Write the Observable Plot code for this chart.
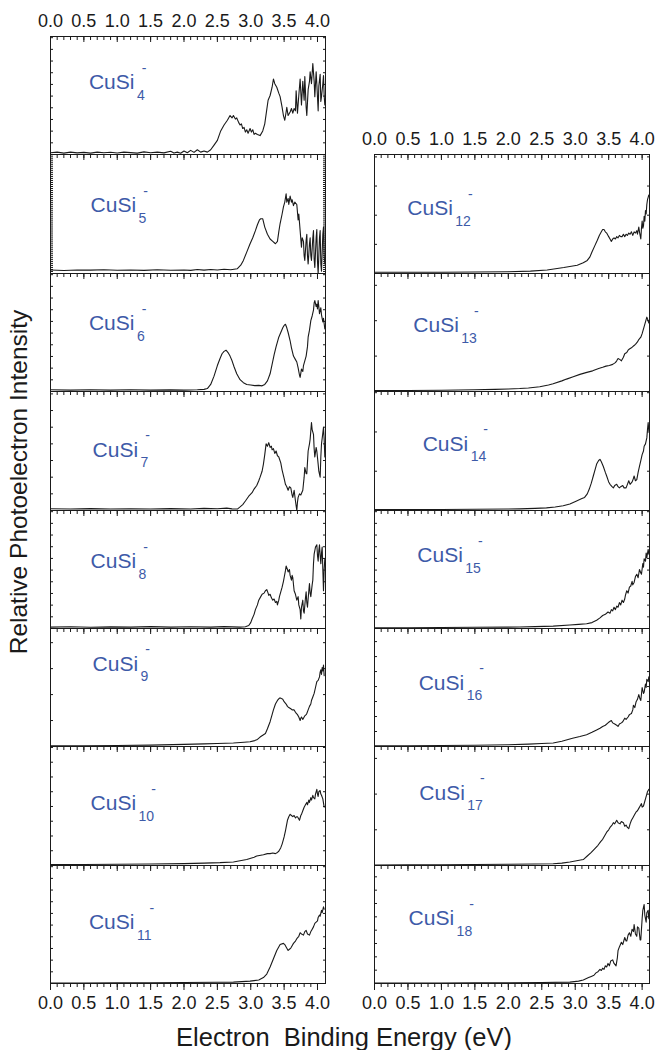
<!DOCTYPE html>
<html><head><meta charset="utf-8">
<script src="https://cdn.jsdelivr.net/npm/d3@7"></script>
<script src="https://cdn.jsdelivr.net/npm/@observablehq/plot@0.6"></script>
<style>
html,body{margin:0;padding:0;background:#fff;}
#fig{position:relative;width:657px;height:1050px;overflow:hidden;font-family:"Liberation Sans",Arial,Helvetica,sans-serif;color:#1a1a1a;}
#fig svg{position:absolute;}
.xtitle{position:absolute;left:344px;top:1025px;transform:translateX(-50%);font-size:25.5px;line-height:25px;white-space:pre;color:#1a1a1a;}
.ytitle{position:absolute;left:19px;top:482px;transform:translate(-50%,-50%) rotate(-90deg);font-size:24.5px;line-height:24px;white-space:nowrap;color:#1a1a1a;}
</style></head>
<body><div id="fig"></div>
<script>
// ---------- data (x: electron binding energy in eV, y: relative intensity of the panel, 0..1) ----------
const cuSi4 = [[0,0.015],[0.1,0.02],[0.2,0.012],[0.3,0.02],[0.4,0.014],[0.5,0.018],[0.6,0.012],[0.7,0.02],[0.8,0.015],[0.9,0.019],[1.0,0.013],[1.1,0.02],[1.2,0.016],[1.3,0.012],[1.4,0.022],[1.5,0.015],[1.6,0.02],[1.7,0.014],[1.8,0.028],[1.85,0.012],[1.9,0.02],[1.95,0.01],[2.0,0.03],[2.05,0.015],[2.1,0.035],[2.15,0.018],[2.2,0.04],[2.25,0.02],[2.3,0.03],[2.35,0.02],[2.4,0.04],[2.45,0.08],[2.5,0.12],[2.55,0.2],[2.6,0.25],[2.65,0.29],[2.69,0.33],[2.72,0.31],[2.74,0.33],[2.77,0.3],[2.79,0.31],[2.82,0.27],[2.84,0.25],[2.86,0.26],[2.88,0.22],[2.9,0.23],[2.92,0.19],[2.94,0.21],[2.96,0.18],[2.99,0.22],[3.01,0.19],[3.03,0.21],[3.05,0.17],[3.07,0.18],[3.1,0.17],[3.14,0.16],[3.18,0.2],[3.21,0.26],[3.24,0.38],[3.26,0.46],[3.29,0.5],[3.32,0.57],[3.34,0.64],[3.36,0.6],[3.39,0.57],[3.42,0.52],[3.44,0.49],[3.47,0.4],[3.49,0.33],[3.51,0.29],[3.53,0.36],[3.54,0.4],[3.56,0.33],[3.59,0.36],[3.61,0.39],[3.63,0.35],[3.65,0.39],[3.67,0.37],[3.68,0.54],[3.7,0.35],[3.72,0.5],[3.74,0.64],[3.76,0.42],[3.78,0.62],[3.8,0.46],[3.81,0.66],[3.83,0.4],[3.84,0.33],[3.86,0.55],[3.88,0.62],[3.89,0.7],[3.91,0.6],[3.93,0.77],[3.95,0.62],[3.96,0.49],[3.98,0.7],[3.99,0.6],[4.01,0.37],[4.02,0.58],[4.04,0.68],[4.05,0.45],[4.06,0.49],[4.08,0.6],[4.09,0.67],[4.1,0.5],[4.11,0.42]];
const cuSi5 = [[0,0.03],[0.2,0.025],[0.4,0.03],[0.6,0.028],[0.8,0.032],[1.0,0.027],[1.2,0.03],[1.4,0.026],[1.6,0.032],[1.8,0.027],[2.0,0.03],[2.1,0.026],[2.2,0.033],[2.3,0.028],[2.4,0.034],[2.5,0.03],[2.6,0.036],[2.7,0.032],[2.8,0.04],[2.85,0.07],[2.89,0.11],[2.94,0.18],[2.99,0.25],[3.03,0.3],[3.07,0.36],[3.1,0.41],[3.13,0.45],[3.15,0.46],[3.18,0.46],[3.21,0.39],[3.25,0.33],[3.29,0.29],[3.33,0.27],[3.37,0.25],[3.4,0.27],[3.42,0.35],[3.44,0.42],[3.47,0.5],[3.49,0.56],[3.51,0.6],[3.53,0.67],[3.54,0.6],[3.56,0.63],[3.57,0.58],[3.59,0.65],[3.61,0.6],[3.62,0.62],[3.64,0.57],[3.66,0.6],[3.69,0.58],[3.71,0.45],[3.72,0.5],[3.74,0.36],[3.76,0.22],[3.77,0.3],[3.79,0.27],[3.8,0.15],[3.81,0.11],[3.83,0.28],[3.84,0.33],[3.85,0.15],[3.86,0.08],[3.88,0.25],[3.89,0.3],[3.9,0.15],[3.91,0.11],[3.93,0.3],[3.94,0.36],[3.95,0.12],[3.96,0.05],[3.98,0.3],[3.99,0.37],[4.0,0.1],[4.01,0.0],[4.03,0.3],[4.04,0.36],[4.05,0.08],[4.06,0.02],[4.08,0.33],[4.09,0.39],[4.1,0.15],[4.11,0.08]];
const cuSi6 = [[0,0.015],[0.3,0.012],[0.6,0.015],[0.9,0.012],[1.2,0.015],[1.5,0.012],[1.8,0.014],[2.0,0.012],[2.2,0.015],[2.3,0.018],[2.35,0.025],[2.4,0.06],[2.45,0.13],[2.5,0.22],[2.54,0.28],[2.57,0.32],[2.6,0.34],[2.63,0.35],[2.66,0.33],[2.69,0.3],[2.72,0.26],[2.75,0.21],[2.79,0.15],[2.84,0.1],[2.89,0.075],[2.94,0.06],[3.0,0.055],[3.06,0.05],[3.12,0.052],[3.17,0.048],[3.21,0.06],[3.25,0.09],[3.29,0.15],[3.32,0.23],[3.35,0.31],[3.38,0.38],[3.42,0.46],[3.45,0.5],[3.48,0.54],[3.5,0.56],[3.52,0.57],[3.54,0.54],[3.56,0.5],[3.59,0.43],[3.61,0.37],[3.64,0.3],[3.67,0.27],[3.69,0.25],[3.71,0.2],[3.73,0.14],[3.74,0.12],[3.76,0.19],[3.78,0.17],[3.79,0.22],[3.81,0.26],[3.83,0.3],[3.85,0.38],[3.86,0.46],[3.88,0.52],[3.9,0.6],[3.92,0.64],[3.94,0.69],[3.95,0.75],[3.96,0.77],[3.98,0.72],[3.99,0.74],[4.0,0.7],[4.01,0.77],[4.02,0.72],[4.03,0.66],[4.05,0.71],[4.06,0.65],[4.08,0.59],[4.09,0.62],[4.11,0.53]];
const cuSi7 = [[0,0.015],[0.3,0.012],[0.6,0.016],[0.9,0.012],[1.2,0.015],[1.5,0.012],[1.8,0.016],[2.1,0.013],[2.3,0.018],[2.5,0.015],[2.64,0.02],[2.72,0.014],[2.8,0.012],[2.84,0.03],[2.88,0.05],[2.92,0.08],[2.97,0.12],[3.02,0.15],[3.05,0.18],[3.09,0.21],[3.12,0.25],[3.14,0.28],[3.17,0.33],[3.19,0.39],[3.21,0.47],[3.23,0.56],[3.25,0.54],[3.27,0.57],[3.29,0.53],[3.31,0.54],[3.32,0.51],[3.34,0.52],[3.36,0.48],[3.38,0.5],[3.4,0.46],[3.42,0.45],[3.45,0.4],[3.47,0.34],[3.5,0.27],[3.52,0.22],[3.54,0.2],[3.56,0.17],[3.58,0.2],[3.6,0.19],[3.62,0.13],[3.63,0.11],[3.65,0.17],[3.67,0.08],[3.69,0.0],[3.7,0.07],[3.71,0.11],[3.73,0.14],[3.75,0.13],[3.78,0.17],[3.8,0.28],[3.81,0.36],[3.83,0.31],[3.84,0.31],[3.86,0.5],[3.88,0.56],[3.89,0.6],[3.91,0.74],[3.92,0.68],[3.94,0.64],[3.95,0.52],[3.96,0.45],[3.98,0.53],[3.99,0.5],[4.01,0.39],[4.02,0.33],[4.04,0.28],[4.05,0.45],[4.06,0.56],[4.08,0.65],[4.09,0.7],[4.1,0.6],[4.11,0.45]];
const cuSi8 = [[0,0.012],[0.3,0.015],[0.6,0.011],[0.9,0.014],[1.2,0.012],[1.5,0.016],[1.8,0.012],[2.1,0.015],[2.4,0.012],[2.6,0.016],[2.84,0.012],[2.92,0.015],[2.97,0.025],[3.0,0.05],[3.02,0.08],[3.05,0.12],[3.07,0.16],[3.1,0.2],[3.12,0.24],[3.15,0.27],[3.17,0.29],[3.2,0.3],[3.22,0.32],[3.24,0.33],[3.26,0.3],[3.27,0.28],[3.29,0.29],[3.31,0.26],[3.33,0.24],[3.35,0.25],[3.37,0.22],[3.39,0.23],[3.4,0.2],[3.42,0.24],[3.43,0.27],[3.45,0.31],[3.47,0.35],[3.49,0.4],[3.5,0.43],[3.52,0.49],[3.53,0.53],[3.55,0.5],[3.56,0.48],[3.58,0.5],[3.59,0.45],[3.61,0.41],[3.62,0.45],[3.63,0.43],[3.65,0.32],[3.67,0.29],[3.69,0.24],[3.71,0.27],[3.72,0.2],[3.74,0.16],[3.75,0.08],[3.76,0.18],[3.78,0.24],[3.79,0.15],[3.8,0.13],[3.82,0.26],[3.83,0.31],[3.84,0.22],[3.85,0.18],[3.87,0.32],[3.88,0.38],[3.89,0.3],[3.9,0.27],[3.92,0.37],[3.93,0.41],[3.94,0.55],[3.95,0.63],[3.97,0.69],[3.99,0.71],[4.0,0.62],[4.01,0.57],[4.02,0.66],[4.03,0.71],[4.04,0.62],[4.05,0.55],[4.06,0.64],[4.07,0.69],[4.08,0.5],[4.09,0.32],[4.1,0.5],[4.11,0.59]];
const cuSi9 = [[0,0.005],[0.5,0.006],[1.0,0.008],[1.5,0.012],[2.0,0.018],[2.3,0.022],[2.5,0.026],[2.74,0.03],[2.9,0.036],[2.99,0.04],[3.06,0.05],[3.1,0.06],[3.14,0.08],[3.18,0.095],[3.22,0.11],[3.25,0.15],[3.29,0.21],[3.32,0.27],[3.34,0.31],[3.37,0.36],[3.4,0.39],[3.43,0.41],[3.45,0.41],[3.48,0.4],[3.5,0.38],[3.53,0.36],[3.55,0.34],[3.57,0.33],[3.6,0.32],[3.62,0.31],[3.65,0.31],[3.67,0.29],[3.7,0.27],[3.72,0.25],[3.74,0.22],[3.75,0.24],[3.76,0.25],[3.78,0.23],[3.79,0.24],[3.81,0.26],[3.83,0.27],[3.84,0.28],[3.86,0.31],[3.88,0.34],[3.9,0.36],[3.91,0.39],[3.93,0.42],[3.95,0.45],[3.97,0.5],[3.99,0.55],[4.01,0.56],[4.03,0.59],[4.04,0.63],[4.05,0.65],[4.06,0.61],[4.07,0.67],[4.08,0.64],[4.09,0.69],[4.1,0.6]];
const cuSi10 = [[0,0.008],[0.5,0.009],[1.0,0.01],[1.5,0.012],[2.0,0.016],[2.3,0.02],[2.54,0.024],[2.74,0.03],[2.94,0.05],[3.05,0.07],[3.09,0.08],[3.19,0.09],[3.25,0.1],[3.29,0.1],[3.33,0.105],[3.37,0.1],[3.4,0.11],[3.42,0.12],[3.45,0.15],[3.47,0.18],[3.49,0.22],[3.5,0.24],[3.52,0.29],[3.53,0.32],[3.55,0.38],[3.57,0.41],[3.59,0.43],[3.61,0.42],[3.63,0.41],[3.65,0.42],[3.67,0.4],[3.69,0.41],[3.7,0.41],[3.72,0.39],[3.73,0.38],[3.75,0.42],[3.76,0.43],[3.78,0.46],[3.8,0.49],[3.82,0.51],[3.84,0.53],[3.85,0.51],[3.87,0.55],[3.88,0.53],[3.9,0.57],[3.91,0.55],[3.93,0.59],[3.94,0.57],[3.96,0.56],[3.97,0.6],[3.99,0.64],[4.0,0.6],[4.01,0.58],[4.02,0.62],[4.04,0.63],[4.05,0.6],[4.06,0.59],[4.08,0.56],[4.1,0.49]];
const cuSi11 = [[0,0.003],[0.5,0.004],[1.0,0.005],[1.5,0.006],[2.0,0.008],[2.5,0.01],[2.74,0.012],[2.99,0.02],[3.12,0.03],[3.19,0.05],[3.24,0.08],[3.29,0.14],[3.34,0.21],[3.39,0.28],[3.44,0.33],[3.49,0.34],[3.51,0.33],[3.53,0.31],[3.56,0.28],[3.58,0.29],[3.6,0.3],[3.62,0.32],[3.64,0.34],[3.67,0.36],[3.69,0.38],[3.72,0.4],[3.74,0.43],[3.76,0.42],[3.79,0.41],[3.81,0.44],[3.83,0.45],[3.85,0.42],[3.88,0.41],[3.9,0.44],[3.91,0.45],[3.94,0.48],[3.96,0.51],[3.98,0.52],[4.0,0.53],[4.01,0.56],[4.03,0.58],[4.04,0.57],[4.06,0.62],[4.07,0.6],[4.09,0.65],[4.1,0.63]];
const cuSi12 = [[0,0.01],[0.5,0.01],[1.0,0.011],[1.5,0.012],[2.0,0.015],[2.33,0.02],[2.58,0.03],[2.83,0.05],[3.03,0.07],[3.12,0.09],[3.18,0.11],[3.22,0.14],[3.25,0.18],[3.29,0.23],[3.33,0.28],[3.36,0.32],[3.39,0.35],[3.41,0.37],[3.43,0.37],[3.45,0.35],[3.47,0.34],[3.49,0.32],[3.5,0.31],[3.52,0.29],[3.54,0.27],[3.56,0.29],[3.58,0.3],[3.6,0.29],[3.62,0.31],[3.64,0.3],[3.66,0.32],[3.68,0.31],[3.7,0.31],[3.72,0.33],[3.74,0.31],[3.76,0.33],[3.78,0.32],[3.8,0.34],[3.82,0.33],[3.84,0.35],[3.86,0.32],[3.88,0.35],[3.9,0.34],[3.92,0.36],[3.93,0.33],[3.95,0.39],[3.96,0.35],[3.98,0.29],[3.99,0.38],[4.0,0.44],[4.01,0.38],[4.02,0.4],[4.03,0.48],[4.04,0.44],[4.05,0.53],[4.06,0.5],[4.07,0.58],[4.08,0.62],[4.09,0.64],[4.1,0.66]];
const cuSi13 = [[0,0.008],[0.5,0.009],[1.0,0.011],[1.5,0.015],[1.8,0.018],[2.0,0.021],[2.17,0.025],[2.3,0.03],[2.47,0.04],[2.6,0.055],[2.67,0.065],[2.8,0.09],[2.87,0.105],[2.97,0.125],[3.07,0.145],[3.16,0.16],[3.26,0.175],[3.3,0.185],[3.35,0.195],[3.41,0.205],[3.46,0.215],[3.51,0.22],[3.56,0.23],[3.6,0.245],[3.62,0.26],[3.64,0.28],[3.67,0.27],[3.69,0.26],[3.72,0.29],[3.74,0.32],[3.77,0.33],[3.79,0.35],[3.81,0.36],[3.84,0.37],[3.86,0.38],[3.88,0.39],[3.9,0.4],[3.93,0.42],[3.95,0.44],[3.98,0.46],[4.0,0.49],[4.03,0.55],[4.05,0.59],[4.07,0.63],[4.09,0.6],[4.1,0.58]];
const cuSi14 = [[0,0.008],[0.5,0.008],[1.0,0.009],[1.5,0.01],[2.0,0.012],[2.17,0.014],[2.4,0.018],[2.57,0.022],[2.7,0.03],[2.82,0.04],[2.92,0.055],[3.02,0.08],[3.1,0.1],[3.14,0.11],[3.18,0.14],[3.21,0.18],[3.24,0.23],[3.27,0.29],[3.3,0.35],[3.32,0.39],[3.35,0.42],[3.37,0.43],[3.39,0.41],[3.42,0.37],[3.45,0.32],[3.47,0.29],[3.5,0.24],[3.52,0.22],[3.55,0.2],[3.57,0.19],[3.59,0.21],[3.62,0.22],[3.64,0.2],[3.66,0.19],[3.68,0.2],[3.71,0.21],[3.73,0.19],[3.76,0.19],[3.78,0.22],[3.8,0.25],[3.82,0.22],[3.85,0.24],[3.87,0.27],[3.88,0.29],[3.9,0.25],[3.92,0.26],[3.94,0.32],[3.96,0.37],[3.98,0.42],[4.0,0.47],[4.02,0.5],[4.03,0.54],[4.05,0.56],[4.07,0.61],[4.08,0.68],[4.09,0.74],[4.1,0.67]];
const cuSi15 = [[0,0.005],[0.5,0.006],[1.0,0.008],[1.5,0.01],[2.0,0.012],[2.17,0.013],[2.4,0.016],[2.67,0.02],[2.92,0.03],[3.05,0.035],[3.17,0.04],[3.25,0.05],[3.32,0.07],[3.37,0.09],[3.41,0.11],[3.45,0.12],[3.49,0.14],[3.52,0.13],[3.54,0.16],[3.56,0.15],[3.58,0.18],[3.6,0.16],[3.62,0.19],[3.64,0.18],[3.66,0.22],[3.68,0.2],[3.7,0.24],[3.72,0.22],[3.74,0.25],[3.75,0.28],[3.77,0.32],[3.79,0.3],[3.81,0.35],[3.83,0.36],[3.85,0.4],[3.86,0.37],[3.88,0.39],[3.9,0.44],[3.92,0.46],[3.94,0.43],[3.96,0.5],[3.98,0.47],[3.99,0.46],[4.01,0.55],[4.02,0.52],[4.03,0.59],[4.05,0.57],[4.06,0.64],[4.07,0.6],[4.09,0.67],[4.1,0.63]];
const cuSi16 = [[0,0.005],[0.5,0.006],[1.0,0.008],[1.5,0.01],[2.0,0.015],[2.3,0.02],[2.5,0.025],[2.67,0.03],[2.8,0.045],[2.96,0.07],[3.07,0.085],[3.17,0.1],[3.25,0.12],[3.32,0.14],[3.37,0.155],[3.41,0.17],[3.45,0.18],[3.49,0.2],[3.51,0.21],[3.54,0.22],[3.56,0.2],[3.59,0.19],[3.62,0.18],[3.64,0.17],[3.66,0.19],[3.69,0.2],[3.71,0.21],[3.74,0.24],[3.76,0.23],[3.79,0.25],[3.81,0.27],[3.84,0.28],[3.86,0.31],[3.87,0.35],[3.89,0.33],[3.91,0.38],[3.93,0.4],[3.95,0.44],[3.97,0.4],[3.98,0.39],[4.0,0.5],[4.02,0.45],[4.03,0.46],[4.05,0.53],[4.06,0.5],[4.07,0.57],[4.09,0.55],[4.1,0.59]];
const cuSi17 = [[0,0.004],[0.5,0.005],[1.0,0.006],[1.5,0.008],[2.0,0.01],[2.4,0.012],[2.67,0.015],[2.8,0.02],[2.92,0.03],[3.02,0.04],[3.12,0.05],[3.18,0.08],[3.24,0.11],[3.29,0.14],[3.34,0.17],[3.38,0.2],[3.41,0.22],[3.44,0.25],[3.47,0.28],[3.5,0.3],[3.52,0.32],[3.55,0.34],[3.57,0.36],[3.59,0.35],[3.62,0.38],[3.64,0.36],[3.67,0.35],[3.69,0.37],[3.72,0.36],[3.74,0.33],[3.76,0.34],[3.78,0.32],[3.8,0.31],[3.82,0.35],[3.84,0.38],[3.86,0.4],[3.87,0.41],[3.89,0.43],[3.91,0.45],[3.93,0.46],[3.95,0.48],[3.97,0.5],[3.99,0.52],[4.0,0.49],[4.02,0.5],[4.04,0.54],[4.05,0.56],[4.07,0.6],[4.08,0.62],[4.1,0.64]];
const cuSi18 = [[0,0.003],[0.5,0.003],[1.0,0.004],[1.5,0.005],[2.0,0.006],[2.5,0.008],[2.92,0.012],[3.05,0.02],[3.12,0.03],[3.2,0.05],[3.24,0.06],[3.28,0.07],[3.31,0.09],[3.34,0.1],[3.37,0.12],[3.39,0.11],[3.41,0.13],[3.43,0.12],[3.45,0.15],[3.47,0.14],[3.49,0.17],[3.51,0.15],[3.53,0.19],[3.56,0.2],[3.58,0.17],[3.61,0.15],[3.63,0.22],[3.64,0.28],[3.66,0.31],[3.69,0.35],[3.71,0.33],[3.74,0.39],[3.76,0.36],[3.77,0.36],[3.79,0.41],[3.81,0.43],[3.83,0.4],[3.85,0.46],[3.87,0.44],[3.88,0.5],[3.9,0.42],[3.92,0.4],[3.93,0.48],[3.95,0.47],[3.97,0.37],[3.98,0.37],[4.0,0.55],[4.01,0.62],[4.03,0.67],[4.04,0.58],[4.06,0.52],[4.07,0.6],[4.09,0.62],[4.1,0.55]];

const clusterSize = [4,5,6,7,8,9,10,11,12,13,14,15,16,17,18];
const spectra = [cuSi4,cuSi5,cuSi6,cuSi7,cuSi8,cuSi9,cuSi10,cuSi11,cuSi12,cuSi13,cuSi14,cuSi15,cuSi16,cuSi17,cuSi18];
// label anchor (eV, relative intensity) for each panel
const labelX = [0.575,0.6,0.575,0.63,0.6,0.63,0.6,0.575, 0.49,0.58,0.72,0.64,0.66,0.67,0.51];
const labelY = [0.61,0.57,0.58,0.51,0.57,0.70,0.52,0.52, 0.55,0.56,0.56,0.62,0.54,0.61,0.55];
// spacing of the (unlabelled) intensity ticks, in relative units
const yTickStep = [0.099,0.017,0.099,0.14,0.099,0.22,0.124,0.099, 0.245,0.3,0.33,0.099,0.127,0.3,0.113];
const xTickLabels = [0.0,0.5,1.0,1.5,2.0,2.5,3.0,3.5,4.0];
const xMinorTicks = d3.range(0, 41).map(i => i / 10);

// ---------- layout ----------
const fig = document.getElementById("fig");
const BLUE = "#3d5aa8";
const INK = "#1a1a1a";
const rowTop = r => Math.round(36 + r * 118.4);
const columns = [
  {left: 50, fw: 275, domain: [0, 4.12], firstRow: 0, panels: [0,1,2,3,4,5,6,7]},
  {left: 374, fw: 275, domain: [0, 4.11], firstRow: 1, panels: [8,9,10,11,12,13,14]}
];
const M = 40;

columns.forEach(col => {
  col.panels.forEach((p, k) => {
    const r = col.firstRow + k;
    const top = rowTop(r), h = rowTop(r + 1) - top;
    const first = k === 0, last = k === col.panels.length - 1;
    const yt = d3.range(yTickStep[p], 0.999, yTickStep[p]);
    const lab = {x: labelX[p], y: labelY[p]};
    const sub = String(clusterSize[p]);
    const subW = sub.length * 7.8;
    const marks = [
      Plot.axisX(xMinorTicks, {anchor: "top", tickSize: -3, fill: "none", label: null}),
      Plot.axisX(xTickLabels, {anchor: "top", tickSize: -5, fill: "none", label: null}),
      Plot.axisY(yt, {anchor: "left", tickSize: -3, fill: "none", label: null}),
      Plot.axisY(yt, {anchor: "right", tickSize: -3, fill: "none", label: null}),
      Plot.line(spectra[p], {x: d => d[0], y: d => d[1], stroke: INK, strokeWidth: 1.1}),
      Plot.text([lab], {x: "x", y: "y", text: () => "CuSi", fill: BLUE, fontSize: 21, textAnchor: "start", lineAnchor: "middle"}),
      Plot.text([lab], {x: "x", y: "y", text: () => sub, fill: BLUE, fontSize: 14, textAnchor: "start", lineAnchor: "middle", dx: 48, dy: 13}),
      Plot.text([lab], {x: "x", y: "y", text: () => "-", fill: BLUE, fontSize: 14, textAnchor: "start", lineAnchor: "middle", dx: 47 + subW - 2, dy: -14}),
      Plot.frame({stroke: INK})
    ];
    if (first) marks.push(Plot.axisX(xTickLabels, {anchor: "top", tickSize: 0, tickPadding: 10, fontSize: 18, fill: INK, tickFormat: d => d.toFixed(1), label: null}));
    if (last) {
      marks.push(Plot.axisX(xMinorTicks, {anchor: "bottom", tickSize: 4, fill: "none", label: null}));
      marks.push(Plot.axisX(xTickLabels, {anchor: "bottom", tickSize: 7, fill: "none", label: null}));
      marks.push(Plot.axisX(xTickLabels, {anchor: "bottom", tickSize: 0, tickPadding: 13, fontSize: 18, fill: INK, tickFormat: d => d.toFixed(1), label: null}));
    }
    const svg = Plot.plot({
      width: 40 + col.fw + 10, height: h + 2 * M,
      marginLeft: 40, marginRight: 10, marginTop: M, marginBottom: M,
      style: {background: "transparent", overflow: "visible", color: INK, fontFamily: "'Liberation Sans', Arial, Helvetica, sans-serif"},
      x: {domain: col.domain},
      y: {domain: [0, 1]},
      marks
    });
    svg.style.left = (col.left - 40) + "px";
    svg.style.top = (top - M) + "px";
    fig.appendChild(svg);
  });
});

const xt = document.createElement("div");
xt.className = "xtitle";
xt.textContent = "Electron  Binding Energy (eV)";
fig.appendChild(xt);
const ytl = document.createElement("div");
ytl.className = "ytitle";
ytl.textContent = "Relative Photoelectron Intensity";
fig.appendChild(ytl);
</script>
</body></html>
